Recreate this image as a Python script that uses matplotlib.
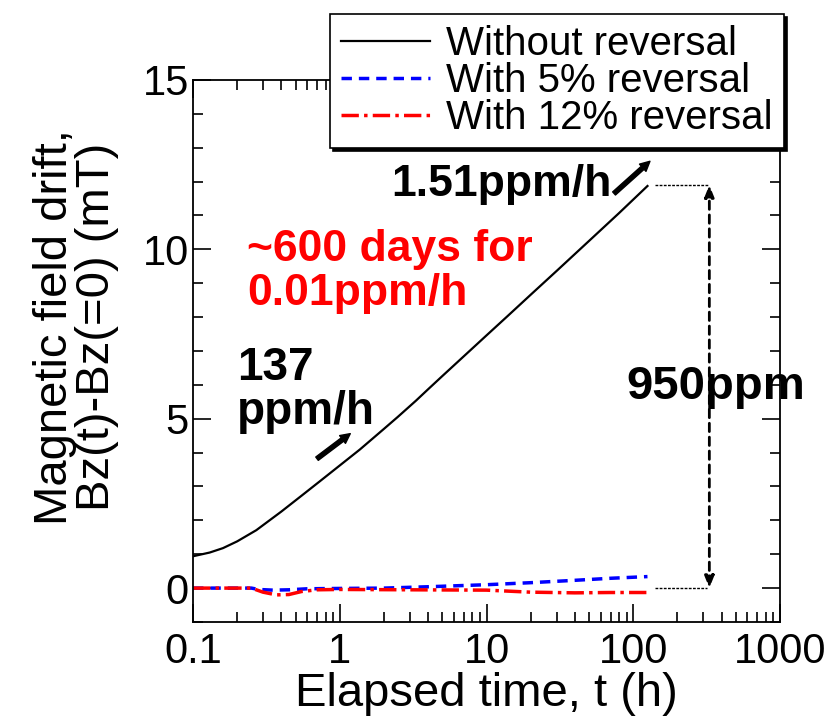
import numpy as np
import matplotlib
matplotlib.use("Agg")
import matplotlib.pyplot as plt
from matplotlib.ticker import LogLocator, NullFormatter, FixedLocator

plt.rcParams['font.family'] = ['Liberation Sans', 'DejaVu Sans']

# Data
t_none = [0.1, 0.13, 0.16, 0.2, 0.27, 0.4, 0.55, 0.73, 1.0, 1.37, 2.0, 2.48, 3.3,
          4.0, 5.0, 6.87, 10, 14, 20, 30, 50, 80, 125]
bz_none = [0.94, 1.05, 1.18, 1.38, 1.71, 2.26, 2.73, 3.15, 3.62, 4.09, 4.7, 5.05, 5.53,
           5.87, 6.26, 6.81, 7.46, 8.04, 8.66, 9.36, 10.25, 11.07, 11.87]

t_5 = [0.1, 0.25, 0.28, 0.35, 0.45, 0.6, 1, 2, 4, 10, 20, 40, 70, 125]
bz_5 = [0, 0, -0.04, -0.06, -0.05, -0.02, -0.01, 0.0, 0.04, 0.1, 0.16, 0.23, 0.29, 0.34]

t_12 = [0.1, 0.25, 0.3, 0.37, 0.45, 0.55, 0.7, 1, 3, 10, 20, 40, 70, 125]
bz_12 = [0, 0, -0.12, -0.2, -0.19, -0.1, -0.05, -0.04, -0.05, -0.06, -0.12, -0.14, -0.13, -0.13]

labels = ["Without reversal", "With 5% reversal", "With 12% reversal"]

fig = plt.figure(figsize=(8.37, 7.25), dpi=100)
ax = fig.add_axes([0.2306, 0.1421, 0.7013, 0.7476])

ax.plot(t_none, bz_none, color='black', lw=1.6, label=labels[0])
ax.plot(t_5, bz_5, color='#0000ff', lw=2.5, ls=(0, (3, 2)), label=labels[1])
ax.plot(t_12, bz_12, color='#ff0000', lw=2.5, ls=(0, (5, 1.5, 1, 1.5)), label=labels[2])

ax.set_xscale('log')
ax.set_xlim(0.1, 1000)
ax.set_ylim(-1, 15)
ax.set_xticks([0.1, 1, 10, 100, 1000])
ax.set_xticklabels(["0.1", "1", "10", "100", "1000"])
ax.xaxis.set_minor_locator(LogLocator(base=10, subs=np.arange(2, 10)))
ax.xaxis.set_minor_formatter(NullFormatter())
ax.set_yticks([0, 5, 10, 15])
ax.yaxis.set_minor_locator(FixedLocator(np.arange(-1, 16, 1)))

ax.tick_params(which='both', direction='in', top=True, right=True, width=1.2)
ax.tick_params(which='major', length=13, labelsize=30)
ax.tick_params(axis='y', which='major', pad=3)
ax.tick_params(axis='x', which='major', pad=7)
ax.tick_params(which='minor', length=7)
for s in ax.spines.values():
    s.set_linewidth(1.3)

ax.set_xlabel("Elapsed time, t (h)", fontsize=34, labelpad=0)
ax.set_ylabel("Magnetic field drift,\nBz(t)-Bz(=0) (mT)", fontsize=34, labelpad=17,
              linespacing=0.95)
ax.yaxis.label.set_y(0.545)

# annotations
ax.text(71, 11.56, "1.51ppm/h", fontsize=32, fontweight='bold', ha='right', va='baseline')
ax.annotate("", xy=(130, 12.6), xytext=(74, 11.65),
            arrowprops=dict(arrowstyle='simple,head_length=0.7,head_width=0.7,tail_width=0.3',
                            color='black', shrinkA=0, shrinkB=0))
ax.annotate("", xy=(1.18, 4.56), xytext=(0.7, 3.82),
            arrowprops=dict(arrowstyle='simple,head_length=0.7,head_width=0.7,tail_width=0.3',
                            color='black', shrinkA=0, shrinkB=0))
ax.text(0.2, 7.15, "137\nppm/h", fontsize=33, fontweight='bold', ha='left', va='top',
        linespacing=1.0)
ax.text(0.235, 10.6, "~600 days for\n0.01ppm/h", fontsize=32, fontweight='bold',
        color='#ff0000', ha='left', va='top', linespacing=1.08)
ax.text(90, 5.95, "950ppm", fontsize=34, fontweight='bold', ha='left', va='center')

ax.plot([140, 330], [11.9, 11.9], color='black', lw=1, ls=(0, (2, 1)))
ax.plot([140, 320], [0, 0], color='black', lw=1, ls=(0, (2, 1)))
ax.annotate("", xy=(330, 11.9), xytext=(330, 0),
            arrowprops=dict(arrowstyle='<|-|>,head_length=0.7,head_width=0.28', color='black',
                            lw=2.0, ls=(0, (3, 2)), shrinkA=0, shrinkB=0))

leg = ax.legend(loc='upper right', bbox_to_anchor=(1.007, 1.122), borderaxespad=0,
                fontsize=29, labelspacing=-0.03, handlelength=2.2, handletextpad=0.4,
                borderpad=0.28, fancybox=False, framealpha=1, edgecolor='black',
                shadow={'color': 'black', 'alpha': 1})
leg.get_frame().set_linewidth(1.2)

fig.savefig("out.png", dpi=100)
